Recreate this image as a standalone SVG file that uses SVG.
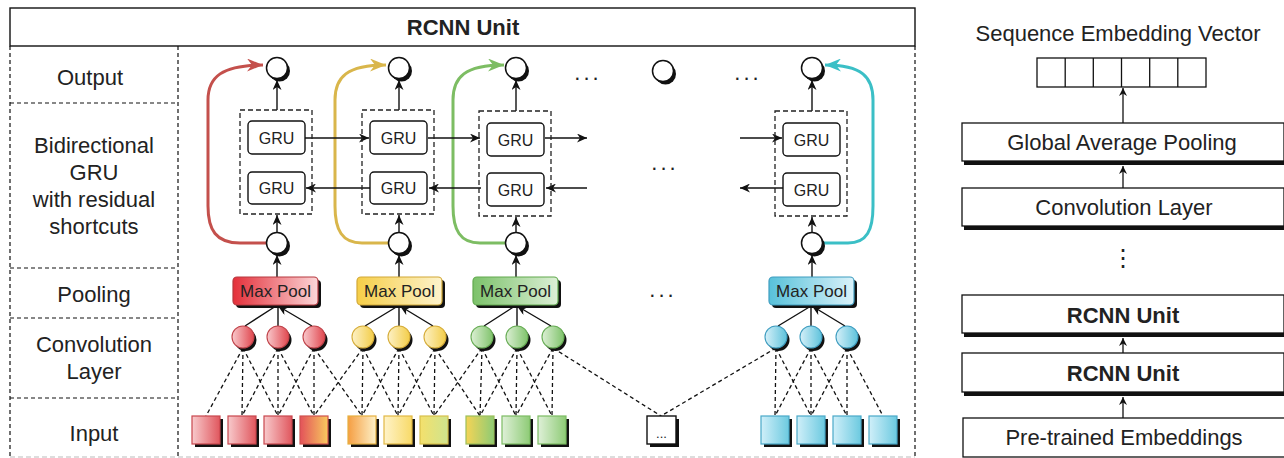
<svg xmlns="http://www.w3.org/2000/svg" width="1284" height="458" viewBox="0 0 1284 458">
  <style>
    text { font-family: "Liberation Sans", Arial, Helvetica, sans-serif; fill: #222; }
    .lbl { font-size: 22px; text-anchor: middle; }
    .bold { font-size: 22px; font-weight: bold; text-anchor: middle; }
    .gru { font-size: 16px; text-anchor: middle; }
    .mp { font-size: 17px; text-anchor: middle; }
    .dots { font-size: 22px; text-anchor: middle; letter-spacing: 3px; }
    .vdots { font-family: "DejaVu Sans", sans-serif; font-size: 24px; text-anchor: middle; }
    .frame { fill: none; stroke: #111; stroke-width: 1.4; }
    .sep { fill: none; stroke: #111; stroke-width: 1.2; stroke-dasharray: 4 3; }
    .grubox { fill: #fff; stroke: #111; stroke-width: 1.4; }
    .gruwrap { fill: none; stroke: #222; stroke-width: 1.3; stroke-dasharray: 5 3; }
    .arr { fill: none; stroke: #111; stroke-width: 1.4; marker-end: url(#ah); }
    .rarr { fill: none; stroke: #111; stroke-width: 1.3; marker-end: url(#ahs); }
    .conn { fill: none; stroke: #111; stroke-width: 1.3; stroke-dasharray: 4 3; }
    .node { fill: #fff; stroke: #111; stroke-width: 1.5; }
    .shadow { fill: #111; }
    .panel { fill: #fff; stroke: #111; stroke-width: 1.3; }
    .res { fill: none; stroke-width: 3; }
  </style>
  <defs>
    <marker id="ah" markerUnits="userSpaceOnUse" markerWidth="11" markerHeight="9" refX="10" refY="4.5" orient="auto">
      <path d="M0,0 L10,4.5 L0,9 L3,4.5 z" fill="#111"/>
    </marker>
    <marker id="ahs" markerUnits="userSpaceOnUse" markerWidth="9" markerHeight="8" refX="8" refY="4" orient="auto">
      <path d="M0,0 L8,4 L0,8 L2.5,4 z" fill="#111"/>
    </marker>
    <marker id="ahRed" markerUnits="userSpaceOnUse" markerWidth="17" markerHeight="13" refX="16" refY="6.5" orient="auto">
      <path d="M0,0 L16,6.5 L0,13 L5,6.5 z" fill="#c4504c"/>
    </marker>
    <marker id="ahYel" markerUnits="userSpaceOnUse" markerWidth="17" markerHeight="13" refX="16" refY="6.5" orient="auto">
      <path d="M0,0 L16,6.5 L0,13 L5,6.5 z" fill="#d9b64b"/>
    </marker>
    <marker id="ahGrn" markerUnits="userSpaceOnUse" markerWidth="17" markerHeight="13" refX="16" refY="6.5" orient="auto">
      <path d="M0,0 L16,6.5 L0,13 L5,6.5 z" fill="#7dbd63"/>
    </marker>
    <marker id="ahTeal" markerUnits="userSpaceOnUse" markerWidth="17" markerHeight="13" refX="16" refY="6.5" orient="auto">
      <path d="M0,0 L16,6.5 L0,13 L5,6.5 z" fill="#3bbfc6"/>
    </marker>

    <!-- max pool fills -->
    <linearGradient id="mpRed" x1="0" x2="1" y1="0" y2="0"><stop offset="0" stop-color="#e4303a"/><stop offset="1" stop-color="#fbd6d8"/></linearGradient>
    <linearGradient id="mpYel" x1="0" x2="1" y1="0" y2="0"><stop offset="0" stop-color="#f6ce48"/><stop offset="1" stop-color="#fdf3cc"/></linearGradient>
    <linearGradient id="mpGrn" x1="0" x2="1" y1="0" y2="0"><stop offset="0" stop-color="#7cc26a"/><stop offset="1" stop-color="#dcefd6"/></linearGradient>
    <linearGradient id="mpBlu" x1="0" x2="1" y1="0" y2="0"><stop offset="0" stop-color="#58c1da"/><stop offset="1" stop-color="#daf2fa"/></linearGradient>

    <!-- convolution unit fills -->
    <linearGradient id="cRed" x1="0" x2="1" y1="0" y2="0"><stop offset="0" stop-color="#f9c9cc"/><stop offset="1" stop-color="#e0464e"/></linearGradient>
    <linearGradient id="cYel" x1="0" x2="1" y1="0" y2="0"><stop offset="0" stop-color="#fdf1c6"/><stop offset="1" stop-color="#f3cd48"/></linearGradient>
    <linearGradient id="cGrn" x1="0" x2="1" y1="0" y2="0"><stop offset="0" stop-color="#dcefd4"/><stop offset="1" stop-color="#7fc36b"/></linearGradient>
    <linearGradient id="cBlu" x1="0" x2="1" y1="0" y2="0"><stop offset="0" stop-color="#d6f0f9"/><stop offset="1" stop-color="#5dc2db"/></linearGradient>

    <!-- input token fills -->
    <linearGradient id="sRed" x1="0" x2="1" y1="0" y2="0"><stop offset="0" stop-color="#f8cacc"/><stop offset="1" stop-color="#e0575e"/></linearGradient>
    <linearGradient id="sRedYel" x1="0" x2="1" y1="0" y2="0"><stop offset="0" stop-color="#e3525a"/><stop offset="1" stop-color="#f8ca5e"/></linearGradient>
    <linearGradient id="sOrgYel" x1="0" x2="1" y1="0" y2="0"><stop offset="0" stop-color="#f59e42"/><stop offset="1" stop-color="#fdf1c8"/></linearGradient>
    <linearGradient id="sYel" x1="0" x2="1" y1="0" y2="0"><stop offset="0" stop-color="#fff3c9"/><stop offset="1" stop-color="#f8da68"/></linearGradient>
    <linearGradient id="sYelLime" x1="0" x2="1" y1="0" y2="0"><stop offset="0" stop-color="#f4e06c"/><stop offset="1" stop-color="#cfe48e"/></linearGradient>
    <linearGradient id="sYelGrn" x1="0" x2="1" y1="0" y2="0"><stop offset="0" stop-color="#f5d456"/><stop offset="1" stop-color="#8ecb74"/></linearGradient>
    <linearGradient id="sGrn" x1="0" x2="1" y1="0" y2="0"><stop offset="0" stop-color="#dff0d8"/><stop offset="1" stop-color="#8ecb76"/></linearGradient>
    <linearGradient id="sBlu" x1="0" x2="1" y1="0" y2="0"><stop offset="0" stop-color="#d0eff9"/><stop offset="1" stop-color="#6ccae0"/></linearGradient>
  </defs>

  <rect width="1284" height="458" fill="#fff"/>

  <!-- ===== RCNN unit frame ===== -->
  <g id="rcnn-frame">
    <rect class="frame" x="10" y="8" width="905" height="38"/>
    <text class="bold" x="463" y="35">RCNN Unit</text>
    <path class="sep" d="M10,46 V457 M178,46 V457 M915,46 V457"/>
    <path class="sep" d="M10,103 H178 M10,268 H178 M10,318 H178 M10,398 H178"/>
    <path d="M10,457 H915" fill="none" stroke="#bbb" stroke-width="1.2" stroke-dasharray="5 3"/>
  </g>

  <!-- row labels -->
  <g id="row-labels">
    <text class="lbl" x="90" y="85">Output</text>
    <text class="lbl" x="94" y="153">Bidirectional</text>
    <text class="lbl" x="94" y="180">GRU</text>
    <text class="lbl" x="94" y="207">with residual</text>
    <text class="lbl" x="94" y="234">shortcuts</text>
    <text class="lbl" x="94" y="302">Pooling</text>
    <text class="lbl" x="94" y="352">Convolution</text>
    <text class="lbl" x="94" y="379">Layer</text>
    <text class="lbl" x="94" y="441">Input</text>
  </g>

  <!-- ===== connectors ===== -->
  <g id="connectors">
    <!-- residual shortcuts -->
    <path class="res" stroke="#c4504c" marker-end="url(#ahRed)" d="M266,243 L240,243 C216,243 208,230 208,206 L208,100 C208,77 222,65 263,65"/>
    <path class="res" stroke="#d9b64b" marker-end="url(#ahYel)" d="M388,243 L362,243 C342,243 335,230 335,206 L335,100 C335,77 347,65 386,65"/>
    <path class="res" stroke="#7dbd63" marker-end="url(#ahGrn)" d="M505,243 L480,243 C460,243 453,230 453,206 L453,100 C453,77 465,65 504,65"/>
    <path class="res" stroke="#3bbfc6" marker-end="url(#ahTeal)" d="M823,243 L848,243 C867,243 873,230 873,206 L873,100 C873,77 862,65 825,65"/>

    <!-- GRU wrapper to output -->
    <path class="arr" d="M277,110 V80"/>
    <path class="arr" d="M399,110 V80"/>
    <path class="arr" d="M516,111 V80"/>
    <path class="arr" d="M812,111 V80"/>
    <!-- shortcut node to GRU wrapper -->
    <path class="arr" d="M277,232 V215"/>
    <path class="arr" d="M399,232 V215"/>
    <path class="arr" d="M516,232 V217"/>
    <path class="arr" d="M812,232 V217"/>
    <!-- max pool to shortcut node -->
    <path class="arr" d="M277,277 V255"/>
    <path class="arr" d="M399,277 V255"/>
    <path class="arr" d="M516,277 V255"/>
    <path class="arr" d="M812,277 V255"/>

    <!-- forward GRU chain -->
    <path class="arr" d="M305,138 H369"/>
    <path class="arr" d="M428,138 H480"/>
    <path class="arr" d="M545,138 H587"/>
    <path class="arr" d="M740,138 H782"/>
    <!-- backward GRU chain -->
    <path class="arr" d="M370,188 H306"/>
    <path class="arr" d="M481,188 H429"/>
    <path class="arr" d="M587,188 H546"/>
    <path class="arr" d="M783,188 H740"/>

    <!-- convolution units to max pool -->
    <path class="arr" d="M245,326 L276,306 M278,326 V306 M312,326 L278,306"/>
    <path class="arr" d="M365,326 L398,306 M399,326 V306 M433,326 L400,306"/>
    <path class="arr" d="M484,326 L515,306 M517,326 V306 M551,326 L517,306"/>
    <path class="arr" d="M778,326 L811,306 M811,326 V306 M845,326 L812,306"/>

    <!-- receptive fields: inputs to convolution units -->
    <path class="conn" d="M243,348 L206,416 M243,348 L242,416 M243,348 L278,416"/>
    <path class="conn" d="M278,348 L242,416 M278,348 L278,416 M278,348 L314,416"/>
    <path class="conn" d="M314,348 L278,416 M314,348 L314,416 M314,348 L362,416"/>
    <path class="conn" d="M363,348 L314,416 M363,348 L362,416 M363,348 L398,416"/>
    <path class="conn" d="M399,348 L362,416 M399,348 L398,416 M399,348 L434,416"/>
    <path class="conn" d="M435,348 L398,416 M435,348 L434,416 M435,348 L480,416"/>
    <path class="conn" d="M482,348 L434,416 M482,348 L480,416 M482,348 L516,416"/>
    <path class="conn" d="M517,348 L480,416 M517,348 L516,416 M517,348 L552,416"/>
    <path class="conn" d="M553,348 L516,416 M553,348 L552,416 M553,348 L661,416"/>
    <path class="conn" d="M776,348 L661,416 M776,348 L775,416 M776,348 L811,416"/>
    <path class="conn" d="M811,348 L775,416 M811,348 L811,416 M811,348 L847,416"/>
    <path class="conn" d="M847,348 L811,416 M847,348 L847,416 M847,348 L883,416"/>
  </g>

  <!-- ===== output nodes ===== -->
  <g id="outputs">
    <g id="out-1"><circle class="shadow" cx="279.5" cy="71" r="10.5"/><circle class="node" cx="277" cy="68" r="10.5"/></g>
    <g id="out-2"><circle class="shadow" cx="401.5" cy="71" r="10.5"/><circle class="node" cx="399" cy="68" r="10.5"/></g>
    <g id="out-3"><circle class="shadow" cx="518.5" cy="71" r="10.5"/><circle class="node" cx="516" cy="68" r="10.5"/></g>
    <g id="out-mid"><circle class="shadow" cx="665.5" cy="74" r="10.5"/><circle class="node" cx="663" cy="71" r="10.5"/></g>
    <g id="out-n"><circle class="shadow" cx="814.5" cy="71" r="10.5"/><circle class="node" cx="812" cy="68" r="10.5"/></g>
  </g>

  <g id="ellipses">
    <text class="dots" x="588" y="80">...</text>
    <text class="dots" x="748" y="80">...</text>
    <text class="dots" x="665" y="170">...</text>
    <text class="dots" x="663" y="297">...</text>
  </g>

  <!-- ===== bidirectional GRU cells ===== -->
  <g id="gru-1">
    <rect class="gruwrap" x="240" y="110" width="72" height="104"/>
    <rect class="grubox" x="248" y="121" width="57" height="33" rx="4"/>
    <text class="gru" x="276.5" y="144">GRU</text>
    <rect class="grubox" x="248" y="172" width="57" height="32" rx="4"/>
    <text class="gru" x="276.5" y="194">GRU</text>
  </g>
  <g id="gru-2">
    <rect class="gruwrap" x="362" y="110" width="72" height="104"/>
    <rect class="grubox" x="370" y="121" width="57" height="33" rx="4"/>
    <text class="gru" x="398.5" y="144">GRU</text>
    <rect class="grubox" x="370" y="172" width="57" height="32" rx="4"/>
    <text class="gru" x="398.5" y="194">GRU</text>
  </g>
  <g id="gru-3">
    <rect class="gruwrap" x="479" y="111" width="72" height="105"/>
    <rect class="grubox" x="487" y="123" width="57" height="33" rx="4"/>
    <text class="gru" x="515.5" y="146">GRU</text>
    <rect class="grubox" x="487" y="173" width="57" height="33" rx="4"/>
    <text class="gru" x="515.5" y="196">GRU</text>
  </g>
  <g id="gru-n">
    <rect class="gruwrap" x="775" y="111" width="72" height="105"/>
    <rect class="grubox" x="783" y="123" width="57" height="33" rx="4"/>
    <text class="gru" x="811.5" y="146">GRU</text>
    <rect class="grubox" x="783" y="173" width="57" height="33" rx="4"/>
    <text class="gru" x="811.5" y="196">GRU</text>
  </g>

  <!-- ===== shortcut nodes ===== -->
  <g id="mid-nodes">
    <g id="mid-1"><circle class="shadow" cx="279.5" cy="246" r="10.5"/><circle class="node" cx="277" cy="243" r="10.5"/></g>
    <g id="mid-2"><circle class="shadow" cx="401.5" cy="246" r="10.5"/><circle class="node" cx="399" cy="243" r="10.5"/></g>
    <g id="mid-3"><circle class="shadow" cx="518.5" cy="246" r="10.5"/><circle class="node" cx="516" cy="243" r="10.5"/></g>
    <g id="mid-n"><circle class="shadow" cx="814.5" cy="246" r="10.5"/><circle class="node" cx="812" cy="243" r="10.5"/></g>
  </g>

  <!-- ===== max pool ===== -->
  <g id="pool-1">
    <rect class="shadow" x="236" y="280" width="85" height="28" rx="4"/>
    <rect x="233" y="277" width="85" height="28" rx="4" fill="url(#mpRed)" stroke="#b73a40" stroke-width="1.2"/>
    <text class="mp" x="275.5" y="297">Max Pool</text>
  </g>
  <g id="pool-2">
    <rect class="shadow" x="360" y="280" width="85" height="28" rx="4"/>
    <rect x="357" y="277" width="85" height="28" rx="4" fill="url(#mpYel)" stroke="#d2a837" stroke-width="1.2"/>
    <text class="mp" x="399.5" y="297">Max Pool</text>
  </g>
  <g id="pool-3">
    <rect class="shadow" x="476" y="280" width="85" height="28" rx="4"/>
    <rect x="473" y="277" width="85" height="28" rx="4" fill="url(#mpGrn)" stroke="#62a94f" stroke-width="1.2"/>
    <text class="mp" x="515.5" y="297">Max Pool</text>
  </g>
  <g id="pool-n">
    <rect class="shadow" x="772" y="280" width="85" height="28" rx="4"/>
    <rect x="769" y="277" width="85" height="28" rx="4" fill="url(#mpBlu)" stroke="#3f9dc0" stroke-width="1.2"/>
    <text class="mp" x="811.5" y="297">Max Pool</text>
  </g>

  <!-- ===== convolution units ===== -->
  <g id="conv-red" stroke="#c0434a" stroke-width="1.1">
    <circle class="shadow" stroke="none" cx="245.5" cy="340" r="11"/><circle cx="243" cy="337" r="11" fill="url(#cRed)"/>
    <circle class="shadow" stroke="none" cx="280.5" cy="340" r="11"/><circle cx="278" cy="337" r="11" fill="url(#cRed)"/>
    <circle class="shadow" stroke="none" cx="316.5" cy="340" r="11"/><circle cx="314" cy="337" r="11" fill="url(#cRed)"/>
  </g>
  <g id="conv-yellow" stroke="#d6ad3a" stroke-width="1.1">
    <circle class="shadow" stroke="none" cx="365.5" cy="340" r="11"/><circle cx="363" cy="337" r="11" fill="url(#cYel)"/>
    <circle class="shadow" stroke="none" cx="401.5" cy="340" r="11"/><circle cx="399" cy="337" r="11" fill="url(#cYel)"/>
    <circle class="shadow" stroke="none" cx="437.5" cy="340" r="11"/><circle cx="435" cy="337" r="11" fill="url(#cYel)"/>
  </g>
  <g id="conv-green" stroke="#68ad55" stroke-width="1.1">
    <circle class="shadow" stroke="none" cx="484.5" cy="340" r="11"/><circle cx="482" cy="337" r="11" fill="url(#cGrn)"/>
    <circle class="shadow" stroke="none" cx="519.5" cy="340" r="11"/><circle cx="517" cy="337" r="11" fill="url(#cGrn)"/>
    <circle class="shadow" stroke="none" cx="555.5" cy="340" r="11"/><circle cx="553" cy="337" r="11" fill="url(#cGrn)"/>
  </g>
  <g id="conv-blue" stroke="#3f9dc0" stroke-width="1.1">
    <circle class="shadow" stroke="none" cx="778.5" cy="340" r="11"/><circle cx="776" cy="337" r="11" fill="url(#cBlu)"/>
    <circle class="shadow" stroke="none" cx="813.5" cy="340" r="11"/><circle cx="811" cy="337" r="11" fill="url(#cBlu)"/>
    <circle class="shadow" stroke="none" cx="849.5" cy="340" r="11"/><circle cx="847" cy="337" r="11" fill="url(#cBlu)"/>
  </g>

  <!-- ===== input tokens ===== -->
  <g id="inputs" stroke-width="1.2">
    <g id="tok-1"><rect class="shadow" stroke="none" x="195" y="419" width="28" height="28"/><rect x="192" y="416" width="28" height="28" fill="url(#sRed)" stroke="#c9474d"/></g>
    <g id="tok-2"><rect class="shadow" stroke="none" x="231" y="419" width="28" height="28"/><rect x="228" y="416" width="28" height="28" fill="url(#sRed)" stroke="#c9474d"/></g>
    <g id="tok-3"><rect class="shadow" stroke="none" x="267" y="419" width="28" height="28"/><rect x="264" y="416" width="28" height="28" fill="url(#sRed)" stroke="#c9474d"/></g>
    <g id="tok-4"><rect class="shadow" stroke="none" x="303" y="419" width="28" height="28"/><rect x="300" y="416" width="28" height="28" fill="url(#sRedYel)" stroke="#d0524e"/></g>
    <g id="tok-5"><rect class="shadow" stroke="none" x="351" y="419" width="28" height="28"/><rect x="348" y="416" width="28" height="28" fill="url(#sOrgYel)" stroke="#e6b040"/></g>
    <g id="tok-6"><rect class="shadow" stroke="none" x="387" y="419" width="28" height="28"/><rect x="384" y="416" width="28" height="28" fill="url(#sYel)" stroke="#e2b844"/></g>
    <g id="tok-7"><rect class="shadow" stroke="none" x="423" y="419" width="28" height="28"/><rect x="420" y="416" width="28" height="28" fill="url(#sYelLime)" stroke="#d8c04c"/></g>
    <g id="tok-8"><rect class="shadow" stroke="none" x="469" y="419" width="28" height="28"/><rect x="466" y="416" width="28" height="28" fill="url(#sYelGrn)" stroke="#9cbf5a"/></g>
    <g id="tok-9"><rect class="shadow" stroke="none" x="505" y="419" width="28" height="28"/><rect x="502" y="416" width="28" height="28" fill="url(#sGrn)" stroke="#7cbc63"/></g>
    <g id="tok-10"><rect class="shadow" stroke="none" x="541" y="419" width="28" height="28"/><rect x="538" y="416" width="28" height="28" fill="url(#sGrn)" stroke="#7cbc63"/></g>
    <g id="tok-gap"><rect class="shadow" stroke="none" x="650" y="419" width="29" height="28"/><rect x="647" y="416" width="29" height="28" fill="#fff" stroke="#111" stroke-width="1.4"/><text x="661.5" y="438" font-size="13" text-anchor="middle">...</text></g>
    <g id="tok-n3"><rect class="shadow" stroke="none" x="764" y="419" width="28" height="28"/><rect x="761" y="416" width="28" height="28" fill="url(#sBlu)" stroke="#4aa9c9"/></g>
    <g id="tok-n2"><rect class="shadow" stroke="none" x="800" y="419" width="28" height="28"/><rect x="797" y="416" width="28" height="28" fill="url(#sBlu)" stroke="#4aa9c9"/></g>
    <g id="tok-n1"><rect class="shadow" stroke="none" x="836" y="419" width="28" height="28"/><rect x="833" y="416" width="28" height="28" fill="url(#sBlu)" stroke="#4aa9c9"/></g>
    <g id="tok-n"><rect class="shadow" stroke="none" x="872" y="419" width="28" height="28"/><rect x="869" y="416" width="28" height="28" fill="url(#sBlu)" stroke="#4aa9c9"/></g>
  </g>

  <!-- ===== model stack ===== -->
  <g id="stack-connectors">
    <path class="rarr" d="M1123,123 V88"/>
    <path class="rarr" d="M1123,188 V166"/>
    <path class="rarr" d="M1123,353 V338"/>
    <path class="rarr" d="M1123,418 V397"/>
  </g>
  <g id="seq-vector">
    <text class="lbl" x="1118" y="41">Sequence Embedding Vector</text>
    <rect x="1037" y="58" width="169" height="29" fill="#fff" stroke="#111" stroke-width="1.3"/>
    <path d="M1065.2,58 V87 M1093.3,58 V87 M1121.5,58 V87 M1149.7,58 V87 M1177.8,58 V87" stroke="#111" stroke-width="1.3"/>
  </g>
  <g id="global-pool">
    <rect class="shadow" x="964" y="127" width="322" height="38"/>
    <rect class="panel" x="962" y="123" width="322" height="38"/>
    <text class="lbl" x="1122" y="150">Global Average Pooling</text>
  </g>
  <g id="conv-layer">
    <rect class="shadow" x="964" y="192" width="322" height="38"/>
    <rect class="panel" x="962" y="188" width="322" height="38"/>
    <text class="lbl" x="1124" y="215">Convolution Layer</text>
  </g>
  <g id="stack-gap">
    <text class="vdots" x="1123" y="266">⋮</text>
  </g>
  <g id="rcnn-2">
    <rect class="shadow" x="964" y="299" width="322" height="38"/>
    <rect class="panel" x="962" y="295" width="322" height="38"/>
    <text class="bold" x="1123" y="323">RCNN Unit</text>
  </g>
  <g id="rcnn-1">
    <rect class="shadow" x="964" y="357" width="322" height="39"/>
    <rect class="panel" x="962" y="353" width="322" height="39"/>
    <text class="bold" x="1123" y="381">RCNN Unit</text>
  </g>
  <g id="embeddings">
    <rect class="panel" x="963" y="418" width="322" height="39"/>
    <text class="lbl" x="1124" y="445">Pre-trained Embeddings</text>
  </g>
</svg>
